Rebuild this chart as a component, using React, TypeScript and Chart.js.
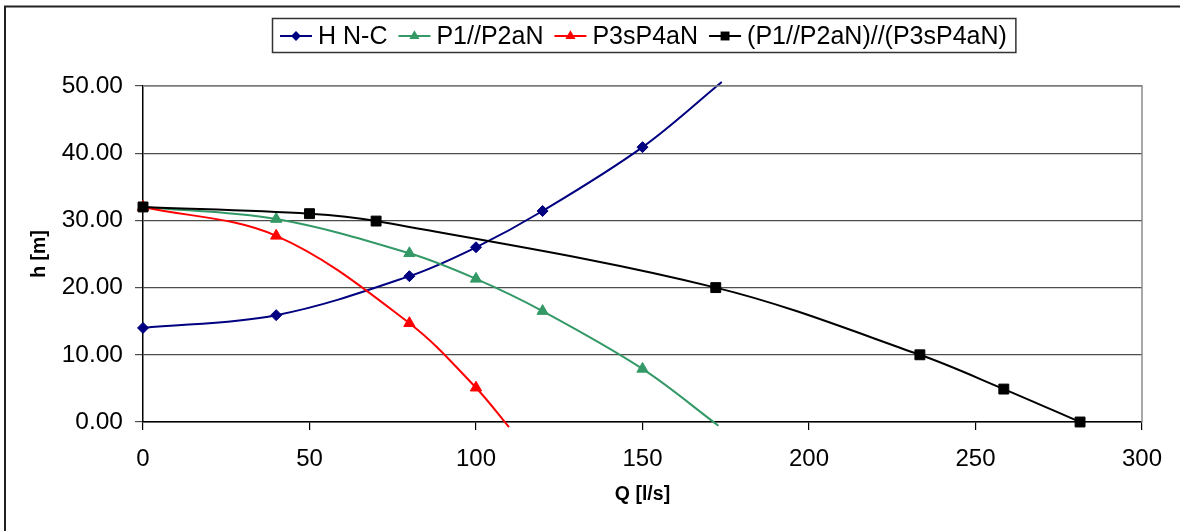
import React, { useEffect, useRef } from "react";
import { Chart, registerables } from "chart.js";

Chart.register(...registerables);

// ---- data ----
const seriesNames = ["H N-C", "P1//P2aN", "P3sP4aN", "(P1//P2aN)//(P3sP4aN)"];
const seriesColors = ["#000080", "#339966", "#FF0000", "#000000"];
const seriesMarkers = ["rectRot", "triangle", "triangle", "rect"];
const seriesRadius = [5.5, 6.5, 6.5, 7];

const hncQ = [0, 40, 80, 100, 120, 150, 173.8];
const hncH = [14.0, 15.9, 21.7, 26.0, 31.4, 40.9, 50.6];
const hncMarked = [1, 1, 1, 1, 1, 1, 0];

const p12Q = [0, 40, 80, 100, 120, 150, 172.8];
const p12H = [32.0, 30.2, 25.1, 21.3, 16.5, 7.9, -0.55];
const p12Marked = [1, 1, 1, 1, 1, 1, 0];

const p34Q = [0, 40, 80, 100, 109.9];
const p34H = [32.0, 27.7, 14.7, 5.1, -0.75];
const p34Marked = [1, 1, 1, 1, 0];

const combQ = [0, 50, 70, 172, 233.3, 258.5, 281.4];
const combH = [32.0, 31.0, 29.9, 20.0, 10.0, 4.9, 0.0];
const combMarked = [1, 1, 1, 1, 1, 1, 1];

const xTicks = [0, 50, 100, 150, 200, 250, 300];
const yTicks = [0, 10, 20, 30, 40, 50];
const xTitle = "Q [l/s]";
const yTitle = "h [m]";

const FONT = '"Liberation Sans", Arial, sans-serif';

function pts(q: number[], h: number[]) {
  return q.map((x, i) => ({ x, y: h[i] }));
}

function drawMarker(ctx: CanvasRenderingContext2D, style: string, x: number, y: number, r: number, color: string) {
  ctx.save();
  ctx.fillStyle = color;
  ctx.beginPath();
  if (style === "rectRot") {
    ctx.moveTo(x - r, y);
    ctx.lineTo(x, y - r);
    ctx.lineTo(x + r, y);
    ctx.lineTo(x, y + r);
  } else if (style === "triangle") {
    const h = r * 1.5;
    const w = r * Math.sqrt(3);
    ctx.moveTo(x, y - h * 2 / 3);
    ctx.lineTo(x + w / 2, y + h / 3);
    ctx.lineTo(x - w / 2, y + h / 3);
  } else {
    const s = r * Math.SQRT1_2;
    ctx.rect(x - s, y - s, 2 * s, 2 * s);
  }
  ctx.closePath();
  ctx.fill();
  ctx.restore();
}

const decorPlugin = {
  id: "decor",
  afterDraw(chart: any) {
    const ctx: CanvasRenderingContext2D = chart.ctx;
    const ca = chart.chartArea;
    ctx.save();
    // plot area border (top / right) gray
    ctx.strokeStyle = "#8c8c8c";
    ctx.lineWidth = 1.5;
    ctx.beginPath();
    ctx.moveTo(ca.left, ca.top);
    ctx.lineTo(ca.right, ca.top);
    ctx.lineTo(ca.right, ca.bottom);
    ctx.stroke();

    // outer chart border (left / top)
    ctx.strokeStyle = "#222";
    ctx.lineWidth = 2;
    ctx.beginPath();
    ctx.moveTo(5, chart.height + 2);
    ctx.lineTo(5, 6.5);
    ctx.lineTo(chart.width + 2, 6.5);
    ctx.stroke();

    // axis titles
    ctx.fillStyle = "#000";
    ctx.font = "bold 19.5px " + FONT;
    ctx.textAlign = "center";
    ctx.textBaseline = "middle";
    ctx.fillText(xTitle, (ca.left + ca.right) / 2, 495);
    ctx.save();
    ctx.translate(40, (ca.top + ca.bottom) / 2);
    ctx.rotate(-Math.PI / 2);
    ctx.fillText(yTitle, 0, 0);
    ctx.restore();

    // legend
    ctx.font = "25px " + FONT;
    ctx.textAlign = "left";
    let x = 280;
    const cy = 36;
    for (let i = 0; i < seriesNames.length; i++) {
      ctx.strokeStyle = seriesColors[i];
      ctx.lineWidth = 2;
      ctx.beginPath();
      ctx.moveTo(x, cy);
      ctx.lineTo(x + 32, cy);
      ctx.stroke();
      drawMarker(ctx, seriesMarkers[i], x + 16, cy, seriesRadius[i] * 0.9, seriesColors[i]);
      ctx.fillStyle = "#000";
      ctx.fillText(seriesNames[i], x + 38, cy + 1);
      const w = ctx.measureText(seriesNames[i]).width;
      x = x + 38 + w + 11;
    }
    const right = x - 11 + 9;
    ctx.strokeStyle = "#333";
    ctx.lineWidth = 1.5;
    ctx.strokeRect(272.5, 18.5, right - 272.5, 34);
    ctx.restore();
  },
};

export default function App() {
  const ref = useRef<HTMLCanvasElement | null>(null);

  useEffect(() => {
    if (!ref.current) return;
    const sets = [
      { q: hncQ, h: hncH, m: hncMarked },
      { q: p12Q, h: p12H, m: p12Marked },
      { q: p34Q, h: p34H, m: p34Marked },
      { q: combQ, h: combH, m: combMarked },
    ];
    const datasets = sets.map((s, i) => ({
      label: seriesNames[i],
      data: pts(s.q, s.h),
      borderColor: seriesColors[i],
      backgroundColor: seriesColors[i],
      pointBackgroundColor: seriesColors[i],
      pointBorderColor: seriesColors[i],
      pointBorderWidth: 1,
      pointStyle: seriesMarkers[i] as any,
      pointRadius: s.m.map((v) => (v ? seriesRadius[i] : 0)),
      borderWidth: 2,
      showLine: true,
      tension: 0.35,
      clip: 8,
      order: 4 - i,
    }));

    const chart = new Chart(ref.current, {
      type: "scatter",
      data: { datasets: datasets as any },
      options: {
        animation: false,
        responsive: true,
        maintainAspectRatio: false,
        layout: { padding: { top: 86, right: 38, left: 0, bottom: 0 } },
        plugins: { legend: { display: false }, tooltip: { enabled: false } },
        scales: {
          x: {
            type: "linear",
            min: 0,
            max: 300,
            afterFit: (s: any) => { s.height = 109; },
            afterBuildTicks: (s: any) => { s.ticks = xTicks.map((v) => ({ value: v })); },
            ticks: {
              color: "#000",
              font: { family: FONT, size: 24 },
              padding: 15,
              maxRotation: 0,
              callback: (v: any) => String(v),
            },
            grid: { drawOnChartArea: false, drawTicks: true, tickLength: 8, color: "#000", lineWidth: 1.2 },
            border: { color: "#000", width: 1.5 },
          },
          y: {
            type: "linear",
            min: 0,
            max: 50,
            afterFit: (s: any) => { s.width = 143; },
            afterBuildTicks: (s: any) => { s.ticks = yTicks.map((v) => ({ value: v })); },
            ticks: {
              color: "#000",
              font: { family: FONT, size: 24.5 },
              padding: 12,
              callback: (v: any) => Number(v).toFixed(2),
            },
            grid: { drawTicks: true, tickLength: 8, color: "#4d4d4d", lineWidth: 1.2 },
            border: { color: "#000", width: 1.5 },
          },
        },
      },
      plugins: [decorPlugin],
    });
    return () => chart.destroy();
  }, []);

  return (
    <div style={{ position: "absolute", left: 0, top: 0, width: 1180, height: 531, background: "#fff" }}>
      <canvas ref={ref} />
    </div>
  );
}
